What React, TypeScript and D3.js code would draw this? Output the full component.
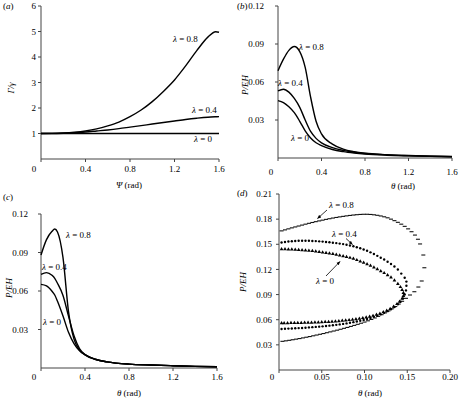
import React from 'react';
import * as d3 from 'd3';

// ---------- Panel (a): Γ/γ vs Ψ ----------
const psiA = [0, 0.1, 0.2, 0.3, 0.4, 0.5, 0.6, 0.7, 0.8, 0.9, 1.0, 1.1, 1.2, 1.3, 1.4, 1.5, 1.57, 1.6];
const gammaA_l0 = [1, 1, 1, 1, 1, 1, 1, 1, 1, 1, 1, 1, 1, 1, 1, 1, 1, 1];
const gammaA_l04 = [1, 1.0, 1.01, 1.03, 1.06, 1.1, 1.14, 1.19, 1.25, 1.31, 1.37, 1.43, 1.49, 1.55, 1.6, 1.64, 1.655, 1.66];
const gammaA_l08 = [1, 1.005, 1.02, 1.05, 1.1, 1.18, 1.3, 1.45, 1.66, 1.92, 2.25, 2.65, 3.1, 3.65, 4.25, 4.78, 4.99, 4.97];

// ---------- Panel (b): P/EH vs θ ----------
const thetaB = [0, 0.05, 0.1, 0.15, 0.2, 0.25, 0.3, 0.35, 0.4, 0.5, 0.6, 0.7, 0.8, 1.0, 1.2, 1.4, 1.6];
const pB_l08 = [0.0689, 0.078, 0.085, 0.088, 0.084, 0.0715, 0.048, 0.029, 0.019, 0.011, 0.007, 0.005, 0.0038, 0.0027, 0.002, 0.0015, 0.0012];
const pB_l04 = [0.053, 0.0543, 0.052, 0.047, 0.04, 0.03, 0.021, 0.0155, 0.012, 0.0082, 0.006, 0.0045, 0.0035, 0.0025, 0.0019, 0.0014, 0.0011];
const pB_l0 = [0.0453, 0.0438, 0.0405, 0.0358, 0.029, 0.0215, 0.0158, 0.012, 0.0098, 0.0067, 0.005, 0.0039, 0.0031, 0.0022, 0.0017, 0.0013, 0.001];

// ---------- Panel (c): P/EH vs θ ----------
const thetaC = [0, 0.05, 0.1, 0.125, 0.15, 0.2, 0.25, 0.3, 0.35, 0.4, 0.5, 0.6, 0.8, 1.0, 1.2, 1.4, 1.6];
const pC_l08 = [0.088, 0.1, 0.1065, 0.1083, 0.106, 0.086, 0.044, 0.0225, 0.0142, 0.0102, 0.0066, 0.0048, 0.003, 0.0023, 0.0018, 0.0013, 0.001];
const pC_l04 = [0.073, 0.0743, 0.0722, 0.0699, 0.066, 0.0565, 0.0405, 0.0252, 0.0152, 0.0105, 0.0066, 0.0048, 0.003, 0.0023, 0.0018, 0.0013, 0.001];
const pC_l0 = [0.0652, 0.064, 0.0598, 0.0569, 0.052, 0.0405, 0.0278, 0.019, 0.0135, 0.0104, 0.0066, 0.0048, 0.003, 0.0023, 0.0018, 0.0013, 0.001];

// ---------- Panel (d): P/EH vs θ (markers) ----------
const lam08Upper: [number, number][] = [
  [0.003, 0.166], [0.007, 0.1672], [0.011, 0.1684], [0.015, 0.1696], [0.019, 0.1707], [0.023, 0.1718],
  [0.027, 0.1729], [0.031, 0.174], [0.035, 0.175], [0.039, 0.176], [0.043, 0.177], [0.047, 0.1779],
  [0.051, 0.1788], [0.055, 0.1797], [0.059, 0.1805], [0.063, 0.1813], [0.067, 0.182], [0.071, 0.1827],
  [0.075, 0.1833], [0.079, 0.1839], [0.083, 0.1844], [0.087, 0.1849], [0.091, 0.1853], [0.095, 0.1856],
  [0.099, 0.1858], [0.103, 0.1858], [0.107, 0.1856], [0.111, 0.1852], [0.115, 0.1846], [0.119, 0.1838],
  [0.123, 0.1828], [0.127, 0.1816], [0.131, 0.18], [0.135, 0.1782], [0.139, 0.1762], [0.143, 0.174],
  [0.147, 0.1714], [0.151, 0.1684], [0.155, 0.165], [0.159, 0.161], [0.1625, 0.156], [0.165, 0.1504],
  [0.1688, 0.1372], [0.17, 0.122], [0.1669, 0.1062], [0.163, 0.099], [0.1583, 0.0934], [0.1532, 0.0895],
  [0.1485, 0.0855],
];
const lam08Lower: [number, number][] = [
  [0.144, 0.082], [0.14, 0.0787], [0.136, 0.0757], [0.132, 0.073], [0.128, 0.0705], [0.124, 0.0682],
  [0.12, 0.066], [0.116, 0.064], [0.112, 0.0621], [0.108, 0.0603], [0.104, 0.0587], [0.1, 0.0572],
  [0.096, 0.0558], [0.092, 0.0545], [0.088, 0.0532], [0.084, 0.052], [0.08, 0.0508], [0.076, 0.0497],
  [0.072, 0.0486], [0.068, 0.0475], [0.064, 0.0465], [0.06, 0.0455], [0.056, 0.0445], [0.052, 0.0435],
  [0.048, 0.0426], [0.044, 0.0417], [0.04, 0.0408], [0.036, 0.0399], [0.032, 0.0391], [0.028, 0.0383],
  [0.024, 0.0375], [0.02, 0.0368], [0.016, 0.0361], [0.012, 0.0354], [0.008, 0.0348], [0.004, 0.0342],
];
const lam04Upper: [number, number][] = [
  [0.003, 0.1522], [0.007, 0.1528], [0.011, 0.1533], [0.015, 0.1537], [0.019, 0.154], [0.023, 0.1542],
  [0.027, 0.1543], [0.031, 0.1543], [0.035, 0.1542], [0.039, 0.154], [0.043, 0.1538], [0.047, 0.1535],
  [0.051, 0.1532], [0.055, 0.1528], [0.059, 0.1524], [0.063, 0.1519], [0.067, 0.1514], [0.071, 0.1508],
  [0.075, 0.1502], [0.079, 0.1495], [0.083, 0.1486], [0.087, 0.1476], [0.091, 0.1465], [0.095, 0.1452],
  [0.099, 0.1438], [0.103, 0.1422], [0.107, 0.1404], [0.111, 0.1384], [0.115, 0.1362], [0.119, 0.134],
  [0.123, 0.1318], [0.127, 0.1292], [0.131, 0.1265], [0.135, 0.1235], [0.139, 0.12], [0.143, 0.115],
  [0.147, 0.11], [0.149, 0.1055],
];
const lam04Lower: [number, number][] = [
  [0.003, 0.049], [0.007, 0.0492], [0.011, 0.0494], [0.015, 0.0496], [0.019, 0.0498], [0.023, 0.05],
  [0.027, 0.0502], [0.031, 0.0505], [0.035, 0.0508], [0.039, 0.0511], [0.043, 0.0514], [0.047, 0.0517],
  [0.051, 0.0521], [0.055, 0.0525], [0.059, 0.0529], [0.063, 0.0534], [0.067, 0.0539], [0.071, 0.0544],
  [0.075, 0.055], [0.079, 0.0556], [0.083, 0.0563], [0.087, 0.0571], [0.091, 0.0579], [0.095, 0.0588],
  [0.099, 0.0598], [0.103, 0.0609], [0.107, 0.0621], [0.111, 0.0634], [0.115, 0.0648], [0.119, 0.0664],
  [0.123, 0.0682], [0.127, 0.0702], [0.131, 0.0725], [0.135, 0.0752], [0.139, 0.0784], [0.142, 0.0815],
  [0.145, 0.0855], [0.147, 0.09], [0.1485, 0.095], [0.149, 0.1005],
];
const lam0Upper: [number, number][] = [
  [0.003, 0.1442], [0.007, 0.1441], [0.011, 0.144], [0.015, 0.1438], [0.019, 0.1436], [0.023, 0.1434],
  [0.027, 0.1431], [0.031, 0.1428], [0.035, 0.1424], [0.039, 0.142], [0.043, 0.1415], [0.047, 0.141],
  [0.051, 0.1404], [0.055, 0.1398], [0.059, 0.1391], [0.063, 0.1384], [0.067, 0.1376], [0.071, 0.1368],
  [0.075, 0.1359], [0.079, 0.1349], [0.083, 0.1339], [0.087, 0.1328], [0.091, 0.1312], [0.095, 0.1296],
  [0.099, 0.128], [0.103, 0.1262], [0.107, 0.1244], [0.111, 0.1224], [0.115, 0.1203], [0.119, 0.118],
  [0.123, 0.1157], [0.127, 0.1132], [0.131, 0.1104], [0.135, 0.107], [0.139, 0.1028], [0.142, 0.099],
  [0.144, 0.0955], [0.1455, 0.092],
];
const lam0Lower: [number, number][] = [
  [0.1455, 0.0885], [0.144, 0.085], [0.141, 0.0815], [0.138, 0.0787], [0.134, 0.0757], [0.13, 0.073],
  [0.126, 0.0708], [0.122, 0.069], [0.118, 0.0673], [0.114, 0.0659], [0.11, 0.0647], [0.106, 0.0637],
  [0.102, 0.0628], [0.098, 0.062], [0.094, 0.0613], [0.09, 0.0607], [0.086, 0.0601], [0.082, 0.0596],
  [0.078, 0.0592], [0.074, 0.0588], [0.07, 0.0584], [0.066, 0.0581], [0.062, 0.0578], [0.058, 0.0575],
  [0.054, 0.0573], [0.05, 0.0571], [0.046, 0.0569], [0.042, 0.0567], [0.038, 0.0566], [0.034, 0.0565],
  [0.03, 0.0564], [0.026, 0.0563], [0.022, 0.0562], [0.018, 0.0561], [0.014, 0.0561], [0.01, 0.056],
  [0.006, 0.056], [0.003, 0.056],
];

// ---------- Tick values ----------
const ticksA_y = [1, 2, 3, 4, 5, 6];
const ticksTheta = [0, 0.4, 0.8, 1.2, 1.6];
const ticksP_y = [0.03, 0.06, 0.09, 0.12];
const ticksD_y = [0.03, 0.06, 0.09, 0.12, 0.15, 0.18, 0.21];
const ticksD_x = [0, 0.05, 0.1, 0.15, 0.2];

const FONT = 'Liberation Serif, serif';
const AXIS = '#444';

type PanelProps = {
  xs: d3.ScaleLinear<number, number>;
  ys: d3.ScaleLinear<number, number>;
  xTicks: number[];
  yTicks: number[];
  xFmt: (v: number) => string;
  yFmt: (v: number) => string;
  yLabelRight: number;
  tickBase: number;
};

function Axes({ xs, ys, xTicks, yTicks, xFmt, yFmt, yLabelRight, tickBase }: PanelProps) {
  const [x0, x1] = xs.range();
  const [y0, y1] = ys.range();
  return (
    <g>
      <line x1={x0} x2={x0} y1={y1} y2={y0} stroke={AXIS} strokeWidth={1} />
      <line x1={x0} x2={x1} y1={y0} y2={y0} stroke={AXIS} strokeWidth={1} />
      {yTicks.map((t) => (
        <g key={'y' + t}>
          <line x1={x0 - 3} x2={x0} y1={ys(t)} y2={ys(t)} stroke={AXIS} />
          <text x={yLabelRight} y={ys(t)} dy="0.35em" textAnchor="end">{yFmt(t)}</text>
        </g>
      ))}
      {xTicks.map((t) => (
        <g key={'x' + t}>
          <line x1={xs(t)} x2={xs(t)} y1={y0} y2={y0 + 3} stroke={AXIS} />
          <text x={t === 0 ? xs(t) - 7 : xs(t)} y={tickBase} textAnchor="middle">{xFmt(t)}</text>
        </g>
      ))}
    </g>
  );
}

function Lam({ x, y, v }: { x: number; y: number; v: string }) {
  return (
    <text x={x} y={y}>
      <tspan fontStyle="italic">λ</tspan> = {v}
    </text>
  );
}

export default function App() {
  const fmt1 = (v: number) => (v === 0 ? '0' : d3.format('.1f')(v));
  const fmtInt = (v: number) => String(v);
  const fmt2 = (v: number) => d3.format('.2f')(v);
  const fmtD = (v: number) => (v === 0 ? '0' : d3.format('.2f')(v));

  // scales
  const xA = d3.scaleLinear().domain([0, 1.6]).range([41, 219]);
  const yA = d3.scaleLinear().domain([0, 6]).range([159, 6]);
  const xB = d3.scaleLinear().domain([0, 1.6]).range([278, 452]);
  const yB = d3.scaleLinear().domain([0, 0.12]).range([158, 6]);
  const xC = d3.scaleLinear().domain([0, 1.6]).range([41, 217]);
  const yC = d3.scaleLinear().domain([0, 0.12]).range([368, 214]);
  const xD = d3.scaleLinear().domain([0, 0.2]).range([279, 450]);
  const yD = d3.scaleLinear().domain([0, 0.21]).range([370, 194]);

  const mk = (xs: any, ys: any, xv: number[], yv: number[]) =>
    d3.line<number>().x((_, i) => xs(xv[i])).y((d) => ys(d)).curve(d3.curveMonotoneX)(yv) || '';

  const tri = d3.symbol().type(d3.symbolTriangle).size(6)() || '';

  const curveStyle = { fill: 'none', stroke: '#000', strokeWidth: 1.4 };

  return (
    <svg width={459} height={400} style={{ position: 'absolute', left: 0, top: 0, background: '#fff' }}
      fontFamily={FONT} fontSize={9} fill="#000">
      <defs>
        <marker id="arr" viewBox="0 0 10 10" refX="9" refY="5" markerWidth="5" markerHeight="5" orient="auto">
          <path d="M0,1 L10,5 L0,9 z" fill="#000" />
        </marker>
      </defs>

      {/* ----- Panel (a) ----- */}
      <text x={3} y={9}>(<tspan fontStyle="italic">a</tspan>)</text>
      <Axes xs={xA} ys={yA} xTicks={ticksTheta} yTicks={ticksA_y} xFmt={fmt1} yFmt={fmtInt} yLabelRight={36} tickBase={172} />
      <path d={mk(xA, yA, psiA, gammaA_l0)} {...curveStyle} />
      <path d={mk(xA, yA, psiA, gammaA_l04)} {...curveStyle} />
      <path d={mk(xA, yA, psiA, gammaA_l08)} {...curveStyle} />
      <Lam x={173} y={42} v="0.8" />
      <Lam x={192} y={113} v="0.4" />
      <Lam x={194} y={142} v="0" />
      <text transform="translate(14,88) rotate(-90)" textAnchor="middle" fontStyle="italic">Γ/γ</text>
      <text x={129} y={188} textAnchor="middle"><tspan fontStyle="italic">Ψ</tspan> (rad)</text>

      {/* ----- Panel (b) ----- */}
      <text x={237} y={9}>(<tspan fontStyle="italic">b</tspan>)</text>
      <Axes xs={xB} ys={yB} xTicks={ticksTheta} yTicks={ticksP_y} xFmt={fmt1} yFmt={fmt2} yLabelRight={264} tickBase={175} />
      <path d={mk(xB, yB, thetaB, pB_l0)} {...curveStyle} />
      <path d={mk(xB, yB, thetaB, pB_l04)} {...curveStyle} />
      <path d={mk(xB, yB, thetaB, pB_l08)} {...curveStyle} />
      <Lam x={299} y={50} v="0.8" />
      <Lam x={278} y={86} v="0.4" />
      <Lam x={291} y={141} v="0" />
      <text transform="translate(248,85) rotate(-90)" textAnchor="middle" fontStyle="italic">P/EH</text>
      <text x={403} y={189} textAnchor="middle"><tspan fontStyle="italic">θ</tspan> (rad)</text>

      {/* ----- Panel (c) ----- */}
      <text x={3} y={200}>(<tspan fontStyle="italic">c</tspan>)</text>
      <Axes xs={xC} ys={yC} xTicks={ticksTheta} yTicks={ticksP_y} xFmt={fmt1} yFmt={fmt2} yLabelRight={28} tickBase={380} />
      <path d={mk(xC, yC, thetaC, pC_l0)} {...curveStyle} />
      <path d={mk(xC, yC, thetaC, pC_l04)} {...curveStyle} />
      <path d={mk(xC, yC, thetaC, pC_l08)} {...curveStyle} />
      <Lam x={66} y={238} v="0.8" />
      <Lam x={42} y={270} v="0.4" />
      <Lam x={43} y={325} v="0" />
      <text transform="translate(12,288) rotate(-90)" textAnchor="middle" fontStyle="italic">P/EH</text>
      <text x={129} y={396} textAnchor="middle"><tspan fontStyle="italic">θ</tspan> (rad)</text>

      {/* ----- Panel (d) ----- */}
      <text x={237} y={196}>(<tspan fontStyle="italic">d</tspan>)</text>
      <Axes xs={xD} ys={yD} xTicks={ticksD_x} yTicks={ticksD_y} xFmt={fmtD} yFmt={fmt2} yLabelRight={272} tickBase={380} />
      {[...lam08Upper, ...lam08Lower].map(([t, v], i) => (
        <line key={'d8' + i} x1={xD(t) - 2} x2={xD(t) + 2} y1={yD(v)} y2={yD(v)} stroke="#111" strokeWidth={1.1} />
      ))}
      {[...lam04Upper, ...lam04Lower].map(([t, v], i) => (
        <circle key={'d4' + i} cx={xD(t)} cy={yD(v)} r={1.2} fill="#000" />
      ))}
      {[...lam0Upper, ...lam0Lower].map(([t, v], i) => (
        <path key={'d0' + i} d={tri} transform={`translate(${xD(t)},${yD(v)})`} fill="#000" />
      ))}
      <Lam x={329} y={208} v="0.8" />
      <line x1={327} y1={210} x2={317.5} y2={218.5} stroke="#000" strokeWidth={0.8} markerEnd="url(#arr)" />
      <Lam x={332} y={237} v="0.4" />
      <line x1={346} y1={238.5} x2={352.5} y2={244.5} stroke="#000" strokeWidth={0.8} markerEnd="url(#arr)" />
      <Lam x={316} y={284} v="0" />
      <line x1={326} y1={276} x2={340} y2={261.5} stroke="#000" strokeWidth={0.8} markerEnd="url(#arr)" />
      <text transform="translate(246,282) rotate(-90)" textAnchor="middle" fontStyle="italic">P/EH</text>
      <text x={370} y={396} textAnchor="middle"><tspan fontStyle="italic">θ</tspan> (rad)</text>
    </svg>
  );
}
